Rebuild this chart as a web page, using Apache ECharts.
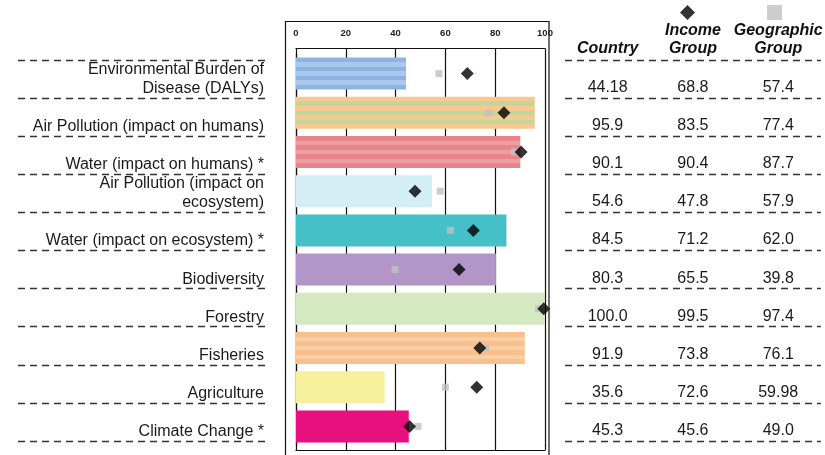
<!DOCTYPE html>
<html><head><meta charset="utf-8">
<script src="https://cdn.jsdelivr.net/npm/echarts@6/dist/echarts.min.js"></script>
<style>html,body{margin:0;padding:0;background:#fff}#c{width:825px;height:455px}</style>
</head><body><div id="c"></div>
<script>
// ---- data ----
const categories = [
  'Environmental Burden of\nDisease (DALYs)',
  'Air Pollution (impact on humans)',
  'Water (impact on humans) *',
  'Air Pollution (impact on\necosystem)',
  'Water (impact on ecosystem) *',
  'Biodiversity',
  'Forestry',
  'Fisheries',
  'Agriculture',
  'Climate Change *'
];
const countryValues = [44.18, 95.9, 90.1, 54.6, 84.5, 80.3, 100.0, 91.9, 35.6, 45.3];
const incomeValues  = [68.8, 83.5, 90.4, 47.8, 71.2, 65.5, 99.5, 73.8, 72.6, 45.6];
const geoValues     = [57.4, 77.4, 87.7, 57.9, 62.0, 39.8, 97.4, 76.1, 59.98, 49.0];
const tableColumns  = ['Country', 'Income\nGroup', 'Geographic\nGroup'];
const axisMin = 0, axisMax = 100, axisStep = 20;

// ---- styles ----
function stripes(a, b, n) {
  const stops = [];
  for (let k = 0; k < n; k++) {
    const c = k % 2 ? b : a;
    stops.push({offset: k / n, color: c}, {offset: (k + 1) / n, color: c});
  }
  return {type: 'linear', x: 0, y: 0, x2: 0, y2: 1, colorStops: stops};
}
const barFills = [
  stripes('#8db3e2', '#a9c8ee', 7),
  stripes('#f9c891', '#c2d698', 7),
  stripes('#e7858a', '#ee9ea1', 7),
  '#d4eef5',
  '#45bfc8',
  '#b396c8',
  '#d4e8c2',
  stripes('#f9c08e', '#fbcfa6', 7),
  '#f5f09b',
  '#e8107f'
];
const FONT = '"Liberation Sans", Arial, sans-serif';
const ink = '#111';
const dash = {type: [7, 5], color: '#333', width: 1.4};

function fmt(v) { return Number.isInteger(v) ? v.toFixed(1) : String(v); }

const tableData = [];
[countryValues, incomeValues, geoValues].forEach((arr, c) => {
  arr.forEach((v, i) => {
    tableData.push({value: [c, i + 1], text: fmt(v)});
  });
});

const chart = echarts.init(document.getElementById('c'), null, {renderer: 'canvas'});
chart.setOption({
  animation: false,
  textStyle: {fontFamily: FONT},
  grid: [
    {left: 296, right: 280, top: 54, bottom: 9},
    {left: 18, right: 555, top: 60, bottom: 14},
    {left: 565, right: 0, top: 60, bottom: 14}
  ],
  legend: [
    {data: [{name: 'Income Group', icon: 'diamond'}], left: 680, top: 5, padding: 0,
     itemWidth: 15, itemHeight: 15, formatter: () => '', selectedMode: false,
     textStyle: {fontSize: 1}},
    {data: [{name: 'Geographic Group', icon: 'rect'}], left: 767, top: 5, padding: 0,
     itemWidth: 15, itemHeight: 15, formatter: () => '', selectedMode: false,
     textStyle: {fontSize: 1}}
  ],
  xAxis: [
    {gridIndex: 0, type: 'value', position: 'top', min: axisMin, max: axisMax, interval: axisStep, offset: 5.5,
     axisLine: {show: true, lineStyle: {color: ink, width: 1.2}},
     axisTick: {show: true, inside: true, length: 6, lineStyle: {color: ink, width: 1.2}},
     axisLabel: {margin: 10, fontSize: 9.5, fontWeight: 'bold', color: '#222', fontFamily: FONT},
     splitLine: {show: true, lineStyle: {color: ink, width: 1.2}}},
    {gridIndex: 0, type: 'value', position: 'bottom', min: axisMin, max: axisMax, interval: axisStep, offset: 4,
     axisLine: {show: true, lineStyle: {color: ink, width: 1.2}},
     axisTick: {show: true, inside: true, length: 5, lineStyle: {color: ink, width: 1.2}},
     axisLabel: {show: false}, splitLine: {show: false}},
    {gridIndex: 1, type: 'value', min: 0, max: 1, show: false},
    {gridIndex: 2, type: 'category', position: 'top', data: tableColumns,
     axisLine: {show: false}, axisTick: {show: false}, splitLine: {show: false},
     axisLabel: {margin: 2, fontSize: 16, fontWeight: 'bold', fontStyle: 'italic', lineHeight: 18,
                 color: ink, fontFamily: FONT, interval: 0}}
  ],
  yAxis: [
    {gridIndex: 0, type: 'category', data: categories, inverse: true,
     axisLine: {show: true, lineStyle: {color: ink, width: 1.2}},
     axisTick: {show: false}, axisLabel: {show: false}},
    {gridIndex: 1, type: 'value', inverse: true, min: 0, max: categories.length, interval: 1, position: 'right',
     axisLine: {show: false}, axisTick: {show: false},
     axisLabel: {inside: true, align: 'right', verticalAlign: 'bottom', margin: 6, fontSize: 16, lineHeight: 19,
                 color: '#1a1a1a', fontFamily: FONT,
                 formatter: v => (v >= 1 ? categories[v - 1] : '')},
     splitLine: {show: true, lineStyle: dash}},
    {gridIndex: 2, type: 'value', inverse: true, min: 0, max: categories.length, interval: 1,
     axisLine: {show: false}, axisTick: {show: false}, axisLabel: {show: false},
     splitLine: {show: true, lineStyle: dash}}
  ],
  series: [
    {name: 'Country', type: 'bar', xAxisIndex: 0, yAxisIndex: 0, barWidth: 32, z: 2, silent: true,
     data: countryValues.map((v, i) => ({value: v, itemStyle: {color: barFills[i]}}))},
    {name: 'Geographic Group', type: 'scatter', xAxisIndex: 0, yAxisIndex: 0, symbol: 'rect', symbolSize: 7,
     itemStyle: {color: '#c0c0c0'}, z: 3, silent: true, data: geoValues},
    {name: 'Income Group', type: 'scatter', xAxisIndex: 0, yAxisIndex: 0, symbol: 'diamond', symbolSize: 13,
     itemStyle: {color: '#000'}, z: 4, silent: true, data: incomeValues},
    {name: 'table', type: 'scatter', xAxisIndex: 3, yAxisIndex: 2, symbolSize: 0, silent: true,
     itemStyle: {color: '#000', opacity: 1},
     label: {show: true, position: 'top', distance: 1, fontSize: 16, lineHeight: 19, color: '#1a1a1a',
             opacity: 1, fontFamily: FONT, formatter: p => p.data.text},
     data: tableData}
  ],
  graphic: [
    {type: 'rect', silent: true, z: 10,
     shape: {x: 285.5, y: 21.5, width: 263.5, height: 450},
     style: {fill: 'none', stroke: ink, lineWidth: 1.2}}
  ]
});
</script>
</body></html>
